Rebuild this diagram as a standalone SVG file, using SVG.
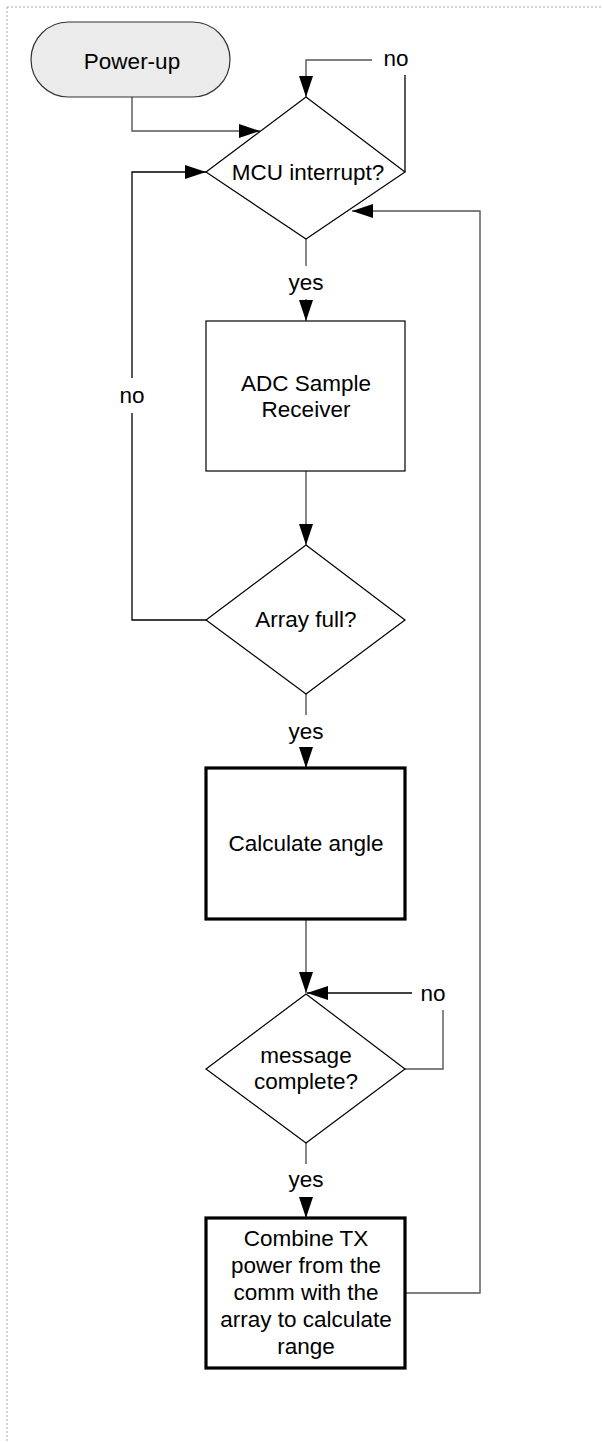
<svg xmlns="http://www.w3.org/2000/svg" width="602" height="1442" viewBox="0 0 602 1442">
  <style>
    text { font-family: "Liberation Sans", Arial, sans-serif; font-size: 22.5px; fill: #000; text-anchor: middle; }
    .shape { fill: #fff; stroke: #000; stroke-width: 1.2; }
    .thick { fill: #fff; stroke: #000; stroke-width: 3.2; }
    .term { fill: #ebebeb; stroke: #333; stroke-width: 1.2; }
    .conn { fill: none; stroke: #555; stroke-width: 1.4; }
    .connk { fill: none; stroke: #000; stroke-width: 1.3; }
    .border { fill: none; stroke: #aaa; stroke-width: 1; stroke-dasharray: 2 2; }
  </style>
  <defs>
    <marker id="arrow" markerUnits="userSpaceOnUse" markerWidth="22" markerHeight="16" refX="21" refY="7" orient="auto">
      <path d="M0,0 L21,7 L0,14 Z" fill="#000"/>
    </marker>
  </defs>
  <rect x="0" y="0" width="602" height="1442" fill="#fff"/>
  <g id="border">
    <line class="border" x1="7" y1="7" x2="602" y2="7"/>
    <line class="border" x1="7" y1="7" x2="7" y2="1442"/>
  </g>
  <g id="connectors">
    <path class="conn" d="M132,97 V131 H260" marker-end="url(#arrow)"/>
    <path class="connk" d="M405,172 V75"/>
    <path class="conn" d="M372,60 H306 V97" marker-end="url(#arrow)"/>
    <text x="396" y="66">no</text>
    <path class="conn" d="M306,239 V266"/>
    <text x="306" y="290">yes</text>
    <path class="conn" d="M306,299 V321" marker-end="url(#arrow)"/>
    <path class="conn" d="M306,471 V545" marker-end="url(#arrow)"/>
    <path class="connk" d="M206,620 H132 V413"/>
    <path class="connk" d="M132,378 V172 H206" marker-end="url(#arrow)"/>
    <text x="132" y="403">no</text>
    <path class="conn" d="M306,694 V715"/>
    <text x="306" y="739">yes</text>
    <path class="conn" d="M306,747 V768" marker-end="url(#arrow)"/>
    <path class="conn" d="M306,919 V993" marker-end="url(#arrow)"/>
    <path class="conn" d="M405,1069 H443 V1010"/>
    <path class="connk" d="M412,993 H307" marker-end="url(#arrow)"/>
    <text x="433" y="1001">no</text>
    <path class="conn" d="M306,1143 V1164"/>
    <text x="306" y="1187">yes</text>
    <path class="conn" d="M306,1198 V1218" marker-end="url(#arrow)"/>
    <path class="conn" d="M405,1293 H480 V211 H352" marker-end="url(#arrow)"/>
  </g>
  <g id="power-up">
    <rect class="term" x="31" y="22" width="199" height="75" rx="37.5" ry="37.5"/>
    <text x="132" y="69">Power-up</text>
  </g>
  <g id="mcu-interrupt">
    <polygon class="shape" points="306,97 405,172 306,239 206,172"/>
    <text x="308" y="180">MCU interrupt?</text>
  </g>
  <g id="adc-sample">
    <rect class="shape" x="206" y="321" width="199" height="150"/>
    <text x="306" y="391">ADC Sample</text>
    <text x="306" y="417">Receiver</text>
  </g>
  <g id="array-full">
    <polygon class="shape" points="306,545 405,620 306,694 206,620"/>
    <text x="306" y="627">Array full?</text>
  </g>
  <g id="calculate-angle">
    <rect class="thick" x="206" y="768" width="199" height="151"/>
    <text x="306" y="851">Calculate angle</text>
  </g>
  <g id="message-complete">
    <polygon class="shape" points="306,994 405,1069 306,1143 206,1069"/>
    <text x="306" y="1063">message</text>
    <text x="306" y="1089">complete?</text>
  </g>
  <g id="combine">
    <rect class="thick" x="206" y="1218" width="199" height="150"/>
    <text x="306" y="1246">Combine TX</text>
    <text x="306" y="1273">power from the</text>
    <text x="306" y="1300">comm with the</text>
    <text x="306" y="1327">array to calculate</text>
    <text x="306" y="1354">range</text>
  </g>
</svg>
